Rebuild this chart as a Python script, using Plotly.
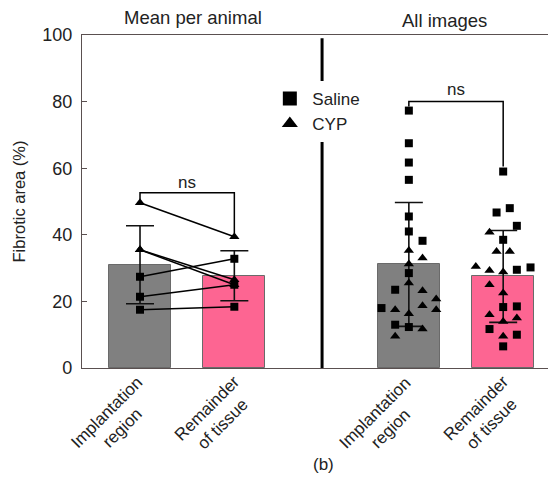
import plotly.graph_objects as go

# ---------------- data ----------------
categories = ["Implantation<br>region", "Remainder<br>of tissue",
              "Implantation<br>region", "Remainder<br>of tissue"]
cat_x = [1.0, 2.0, 3.85, 4.85]

bar_means = [31.0, 27.7, 31.1, 27.5]
bar_sd = [11.7, 7.5, 18.6, 13.8]

# Mean per animal (implantation, remainder) pairs
animal_group = ["CYP", "CYP", "CYP", "Saline", "Saline", "Saline"]
animal_implant = [49.6, 35.5, 35.5, 27.4, 21.4, 17.5]
animal_remainder = [39.4, 26.5, 25.0, 32.8, 25.0, 18.4]

# All images - implantation region
img_impl_saline = [77.3, 67.5, 61.7, 56.5, 45.5, 41.0, 38.2, 28.5, 23.5, 18.0, 13.0, 12.3]
img_impl_saline_jit = [0, 0, 0, 0, 0, 0, 0.145, 0, -0.145, -0.29, -0.145, 0]
img_impl_cyp = [35.3, 33.0, 31.2, 25.5, 23.2, 20.7, 18.7, 17.5, 17.5, 16.3, 11.7, 9.5]
img_impl_cyp_jit = [0, 0.145, 0, 0, 0.145, 0.29, 0.145, 0.29, -0.145, 0, 0.145, -0.145]

# All images - remainder of tissue
img_rem_saline = [59.0, 48.0, 46.7, 42.7, 38.5, 30.2, 29.5, 18.3, 18.5, 11.7, 10.0, 6.5]
img_rem_saline_jit = [0, 0.07, -0.07, 0.145, 0, 0.29, 0.145, 0, 0.145, -0.145, 0.145, 0]
img_rem_cyp = [40.8, 35.0, 35.0, 30.5, 29.3, 28.8, 25.0, 22.5, 16.0, 14.0, 15.0, 9.5]
img_rem_cyp_jit = [-0.145, -0.07, 0.07, -0.29, -0.145, 0, -0.145, 0, -0.145, 0, 0.145, 0]

bar_colors = ["#808080", "#fd6592", "#808080", "#fd6592"]

FONT = "Arial, Liberation Sans, sans-serif"
AXC = "#5a5050"
TXT = "#222222"

fig = go.Figure()

fig.add_trace(go.Bar(
    x=cat_x, y=bar_means, width=0.66,
    marker=dict(color=bar_colors, line=dict(color="#6a6a6a", width=1)),
    error_y=dict(type="data", array=bar_sd, visible=True, color="#111111",
                 thickness=1.6, width=14),
    showlegend=False, hoverinfo="skip"))

sym = {"Saline": "square", "CYP": "triangle-up"}

# per-animal lines
for g, a, b in zip(animal_group, animal_implant, animal_remainder):
    fig.add_trace(go.Scatter(
        x=[cat_x[0], cat_x[1]], y=[a, b], mode="lines+markers",
        line=dict(color="black", width=1.5),
        marker=dict(symbol=sym[g], size=9 if g == "CYP" else 8, color="black"),
        showlegend=False))

def pts(cx, vals, jit, s):
    fig.add_trace(go.Scatter(
        x=[cx + j for j in jit], y=vals, mode="markers",
        marker=dict(symbol=s, size=9 if s == "triangle-up" else 8, color="black"),
        showlegend=False))

pts(cat_x[2], img_impl_saline, img_impl_saline_jit, "square")
pts(cat_x[2], img_impl_cyp, img_impl_cyp_jit, "triangle-up")
pts(cat_x[3], img_rem_saline, img_rem_saline_jit, "square")
pts(cat_x[3], img_rem_cyp, img_rem_cyp_jit, "triangle-up")

# significance brackets
fig.add_trace(go.Scatter(x=[cat_x[0], cat_x[0], cat_x[1], cat_x[1]],
                         y=[50.5, 52.6, 52.6, 40.5], mode="lines",
                         line=dict(color="black", width=1.5), showlegend=False))
fig.add_trace(go.Scatter(x=[cat_x[2], cat_x[2], cat_x[3], cat_x[3]],
                         y=[78.5, 80.0, 80.0, 60.5], mode="lines",
                         line=dict(color="black", width=1.5), showlegend=False))

# legend entries
for name in ["Saline", "CYP"]:
    fig.add_trace(go.Scatter(x=[None], y=[None], mode="markers", name=name,
                             marker=dict(symbol=sym[name], size=14, color="black")))

# divider
fig.add_shape(type="line", x0=2.93, x1=2.93, y0=0, y1=99.0, xref="x", yref="y",
              line=dict(color="black", width=3), layer="below")

ann = [
    dict(x=1.5, y=55.8, text="ns", xref="x", yref="y", size=17),
    dict(x=4.35, y=83.6, text="ns", xref="x", yref="y", size=17),
    dict(x=1.56, y=1.054, text="Mean per animal", xref="x", yref="paper", size=18.5),
    dict(x=4.23, y=1.045, text="All images", xref="x", yref="paper", size=18.5),
    dict(x=2.94, y=-0.29, text="(b)", xref="x", yref="paper", size=17),
]
for a in ann:
    s = a.pop("size")
    fig.add_annotation(**a, showarrow=False, yanchor="middle", xanchor="center",
                       font=dict(size=s, color=TXT, family=FONT))

# rotated category labels (centred multi-line)
label_shift = {"Implantation<br>region": (-26, -52), "Remainder<br>of tissue": (-20, -48)}
for cx, lab in zip(cat_x, categories):
    dx, dy = label_shift[lab]
    fig.add_annotation(x=cx, y=0, xref="x", yref="y", text=lab, showarrow=False,
                       textangle=-45, align="center", xanchor="center", yanchor="middle",
                       xshift=dx, yshift=dy,
                       font=dict(size=17, color=TXT, family=FONT))

fig.update_layout(
    width=556, height=481,
    margin=dict(l=74, r=8, t=27, b=121, autoexpand=False),
    paper_bgcolor="white", plot_bgcolor="white",
    font=dict(family=FONT, color=TXT),
    bargap=0,
    legend=dict(x=0.391, y=0.862, xanchor="left", yanchor="top",
                bgcolor="white", font=dict(size=17, color=TXT, family=FONT),
                itemsizing="trace", itemwidth=35, tracegroupgap=0),
    xaxis=dict(range=[0.385, 5.41], tickvals=cat_x, showticklabels=False,
               showline=True, linecolor=AXC, linewidth=1.2,
               mirror=True, ticks="", showgrid=False, zeroline=False,
               automargin=False),
    yaxis=dict(range=[0, 100], tickvals=[0, 20, 40, 60, 80, 100],
               showline=True, linecolor=AXC, linewidth=1.2, ticks="inside",
               ticklen=5, tickcolor=AXC, showgrid=False, zeroline=False,
               automargin=False, ticklabelstandoff=5,
               tickfont=dict(size=18, color=TXT, family=FONT),
               title=dict(text="Fibrotic area (%)", standoff=12,
                          font=dict(size=16.5, color=TXT, family=FONT))),
)

fig.write_html("out.html")
